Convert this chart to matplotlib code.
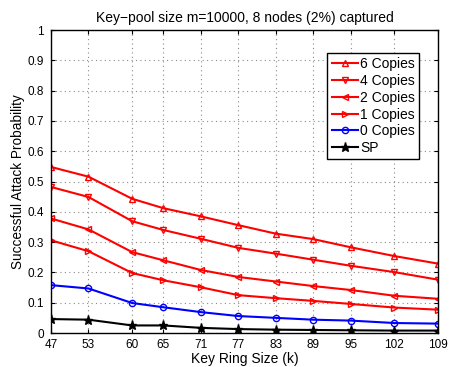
import matplotlib
matplotlib.use('Agg')
import matplotlib.pyplot as plt

# 数据
key_ring = [47, 53, 60, 65, 71, 77, 83, 89, 95, 102, 109]
copies6 = [0.548, 0.516, 0.443, 0.412, 0.385, 0.356, 0.328, 0.310, 0.283, 0.254, 0.229]
copies4 = [0.482, 0.449, 0.369, 0.340, 0.311, 0.281, 0.262, 0.242, 0.222, 0.201, 0.176]
copies2 = [0.378, 0.342, 0.267, 0.240, 0.208, 0.185, 0.170, 0.155, 0.142, 0.123, 0.113]
copies1 = [0.306, 0.270, 0.198, 0.174, 0.151, 0.125, 0.115, 0.106, 0.096, 0.084, 0.077]
copies0 = [0.158, 0.147, 0.099, 0.085, 0.069, 0.056, 0.050, 0.044, 0.041, 0.033, 0.031]
sp = [0.046, 0.044, 0.025, 0.025, 0.017, 0.013, 0.011, 0.010, 0.009, 0.008, 0.008]
yticks = [0, 0.1, 0.2, 0.3, 0.4, 0.5, 0.6, 0.7, 0.8, 0.9, 1]
ytick_labels = ['0', '0.1', '0.2', '0.3', '0.4', '0.5', '0.6', '0.7', '0.8', '0.9', '1']

plt.rcParams['font.family'] = ['Liberation Sans', 'DejaVu Sans']
plt.rcParams['font.size'] = 8.5

fig = plt.figure(figsize=(4.49, 3.67), dpi=100)
ax = fig.add_axes([0.1136, 0.0926, 0.862, 0.8256])

series = [
    (copies6, 'r', '^', '6 Copies'),
    (copies4, 'r', 'v', '4 Copies'),
    (copies2, 'r', '<', '2 Copies'),
    (copies1, 'r', '>', '1 Copies'),
    (copies0, 'b', 'o', '0 Copies'),
]
for vals, c, m, lab in series:
    ax.plot(key_ring, vals, color=c, marker=m, markersize=4.5, markerfacecolor='none',
            markeredgecolor=c, markeredgewidth=1.0, linewidth=1.5, label=lab)
ax.plot(key_ring, sp, color='k', marker='*', markersize=6.5, linewidth=1.5, label='SP')

ax.set_xlim(47, 109)
ax.set_ylim(0, 1)
ax.set_xticks(key_ring)
ax.set_yticks(yticks)
ax.set_yticklabels(ytick_labels)
ax.tick_params(direction='in', top=True, right=True, length=3, width=0.8)
ax.tick_params(axis='x', pad=4)
ax.tick_params(axis='y', pad=5)
ax.grid(True, linestyle=(0, (1, 3)), color='#8a8a8a', linewidth=0.8)
for s in ax.spines.values():
    s.set_linewidth(1.0)

ax.set_xlabel('Key Ring Size (k)', fontsize=10, labelpad=1)
ax.set_ylabel('Successful Attack Probability', fontsize=9.8, labelpad=2)
ax.set_title('Key\u2212pool size m=10000, 8 nodes (2%) captured', fontsize=10, pad=6)

leg = ax.legend(loc='upper right', bbox_to_anchor=(0.951, 0.924), fontsize=10,
                fancybox=False, edgecolor='k', framealpha=1, handlelength=1.9,
                handletextpad=0.15, borderpad=0.3, labelspacing=0.2, borderaxespad=0)
leg.get_frame().set_linewidth(1.0)

fig.savefig('out.png', dpi=100)
